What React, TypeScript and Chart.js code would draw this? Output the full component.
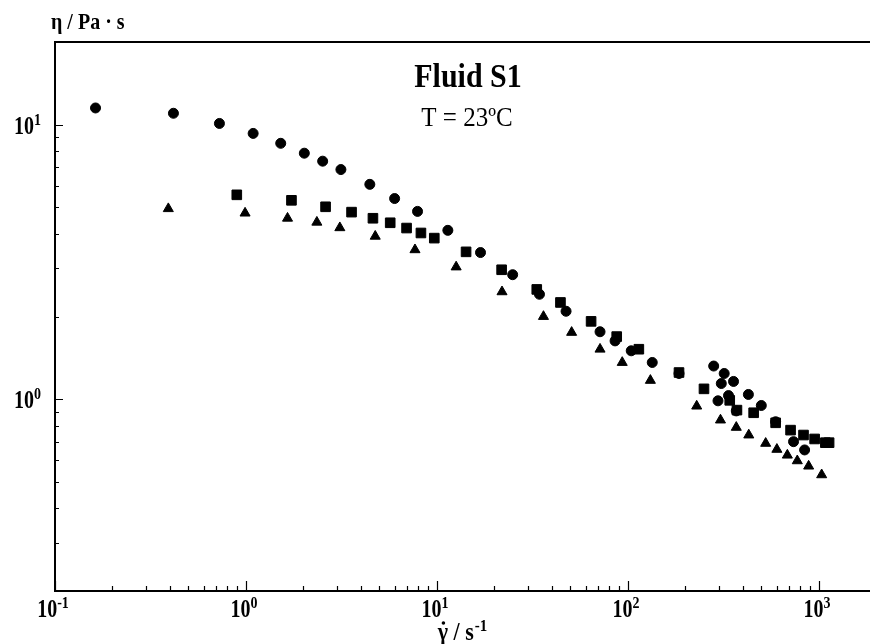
import { useEffect, useRef } from 'react';
import { Chart, registerables } from 'chart.js';

Chart.register(...registerables);

// ---- data (shear rate in 1/s, viscosity in Pa·s) ----
const circleX = [0.163, 0.417, 0.726, 1.09, 1.52, 2.02, 2.52, 3.14, 4.45, 6.0, 7.91, 11.4, 16.9, 24.9, 34.4, 47.4, 71.4, 85.6, 104, 134, 185, 281, 319, 308, 357, 336, 296, 427, 499, 369, 593, 736, 841];
const circleY = [11.5, 11.0, 10.1, 9.29, 8.55, 7.87, 7.36, 6.86, 6.06, 5.38, 4.83, 4.12, 3.42, 2.84, 2.41, 2.09, 1.76, 1.63, 1.5, 1.36, 1.24, 1.32, 1.24, 1.14, 1.16, 1.03, 0.986, 1.04, 0.948, 0.906, 0.827, 0.7, 0.653];

const squareX = [0.895, 1.73, 2.61, 3.57, 4.62, 5.69, 6.93, 8.24, 9.68, 14.2, 21.8, 33.3, 44.3, 64.1, 87.3, 114, 185, 250, 341, 372, 455, 593, 710, 830, 949, 1080, 1130];
const squareY = [5.55, 5.3, 5.02, 4.8, 4.56, 4.39, 4.2, 4.03, 3.86, 3.44, 2.96, 2.51, 2.25, 1.92, 1.69, 1.52, 1.25, 1.09, 0.99, 0.912, 0.892, 0.82, 0.771, 0.74, 0.716, 0.694, 0.694];

const triangleX = [0.392, 0.989, 1.65, 2.35, 3.1, 4.75, 7.67, 12.6, 21.9, 36.1, 50.7, 71.4, 93.3, 131, 229, 305, 369, 429, 526, 602, 683, 770, 883, 1033];
const triangleY = [4.94, 4.76, 4.56, 4.41, 4.21, 3.92, 3.5, 3.03, 2.46, 2.0, 1.75, 1.52, 1.36, 1.17, 0.943, 0.839, 0.789, 0.74, 0.69, 0.656, 0.625, 0.596, 0.57, 0.53];

// ---- axes / tick labels ----
const xMin = 0.1;
const xMax = 1850;
const yMin = 0.2;
const yMax = 20;
const xMajorTicks = [0.1, 1, 10, 100, 1000];
const xTickExponents = ['-1', '0', '1', '2', '3'];
const yMajorTicks = [1, 10];
const yTickExponents = ['0', '1'];
const tickBase = '10';

const titleText = 'Fluid S1';
const subtitleText = 'T = 23ºC';
const yAxisTitle = 'η / Pa · s';
const xAxisTitleBase = 'γ / s';
const xAxisTitleExp = '-1';

const FONT = '"Liberation Serif", "Times New Roman", serif';

function toPoints(xs: number[], ys: number[]) {
  return xs.map((x, i) => ({ x, y: ys[i] }));
}

function logTicks(min: number, max: number) {
  const out: number[] = [];
  const lo = Math.floor(Math.log10(min));
  const hi = Math.ceil(Math.log10(max));
  for (let e = lo; e <= hi; e++) {
    for (let m = 1; m <= 9; m++) {
      const v = parseFloat((m * Math.pow(10, e)).toPrecision(6));
      if (v >= min * 0.9999 && v <= max * 1.0001) out.push(v);
    }
  }
  return out;
}

function isMajor(v: number) {
  const l = Math.log10(v);
  return Math.abs(l - Math.round(l)) < 1e-6;
}

function txt(ctx: CanvasRenderingContext2D, s: string, x: number, y: number, size: number, weight: string, align: CanvasTextAlign, sy = 1) {
  ctx.save();
  ctx.font = `${weight} ${size}px ${FONT}`;
  ctx.textAlign = align;
  ctx.textBaseline = 'alphabetic';
  ctx.translate(x, y);
  ctx.scale(1, sy);
  ctx.fillText(s, 0, 0);
  ctx.restore();
}

const BASE_SIZE = 20;
const EXP_SIZE = 14;
const SY = 1.25;

function powerWidth(ctx: CanvasRenderingContext2D, exp: string) {
  ctx.save();
  ctx.font = `bold ${BASE_SIZE}px ${FONT}`;
  const w1 = ctx.measureText(tickBase).width;
  ctx.font = `bold ${EXP_SIZE}px ${FONT}`;
  const w2 = ctx.measureText(exp).width;
  ctx.restore();
  return [w1, w2];
}

function drawPower(ctx: CanvasRenderingContext2D, exp: string, x: number, baseline: number, align: 'center' | 'right') {
  const [w1, w2] = powerWidth(ctx, exp);
  const total = w1 + w2;
  const left = align === 'center' ? x - total / 2 : x - total;
  txt(ctx, tickBase, left, baseline, BASE_SIZE, 'bold', 'left', SY);
  txt(ctx, exp, left + w1, baseline - 9, EXP_SIZE, 'bold', 'left', SY);
}

const decorPlugin = {
  id: 'decor',
  afterDraw(chart: any) {
    const ctx: CanvasRenderingContext2D = chart.ctx;
    const { left, right, top, bottom } = chart.chartArea;
    const xs = chart.scales.x;
    const ys = chart.scales.y;
    ctx.save();
    ctx.fillStyle = '#000';
    ctx.strokeStyle = '#000';

    // frame: left, bottom, top
    ctx.lineWidth = 2;
    ctx.beginPath();
    ctx.moveTo(right, top);
    ctx.lineTo(left, top);
    ctx.lineTo(left, bottom);
    ctx.lineTo(right, bottom);
    ctx.stroke();

    // inward tick marks
    ctx.lineWidth = 1.2;
    ctx.beginPath();
    xs.ticks.forEach((t: any) => {
      const px = Math.round(xs.getPixelForValue(t.value)) + 0.5;
      const len = isMajor(t.value) ? 10 : 5;
      ctx.moveTo(px, bottom);
      ctx.lineTo(px, bottom - len);
    });
    ys.ticks.forEach((t: any) => {
      const py = Math.round(ys.getPixelForValue(t.value)) + 0.5;
      const len = isMajor(t.value) ? 8 : 4;
      ctx.moveTo(left, py);
      ctx.lineTo(left + len, py);
    });
    ctx.stroke();

    // tick labels
    xMajorTicks.forEach((v, i) => {
      const px = xs.getPixelForValue(v);
      drawPower(ctx, xTickExponents[i], px - 2, bottom + 26, 'center');
    });
    yMajorTicks.forEach((v, i) => {
      const py = ys.getPixelForValue(v);
      drawPower(ctx, yTickExponents[i], 41, py + 9, 'right');
    });

    // titles
    txt(ctx, titleText, 468, 87, 30, 'bold', 'center', 1.1);
    txt(ctx, subtitleText, 467, 126, 25, 'normal', 'center', 1.1);
    txt(ctx, yAxisTitle, 51, 29, 20, 'bold', 'left', 1.15);

    // x-axis title with dotted gamma and superscript
    const bSize = 22;
    const eSize = 15;
    ctx.save();
    ctx.font = `bold ${bSize}px ${FONT}`;
    const wb = ctx.measureText(xAxisTitleBase).width;
    const gw = ctx.measureText('γ').width;
    ctx.font = `bold ${eSize}px ${FONT}`;
    const we = ctx.measureText(xAxisTitleExp).width;
    ctx.restore();
    const tl = 462 - (wb + we) / 2;
    txt(ctx, xAxisTitleBase, tl, 640, bSize, 'bold', 'left', 1.1);
    txt(ctx, xAxisTitleExp, tl + wb + 1, 631, eSize, 'bold', 'left', 1.1);
    ctx.beginPath();
    ctx.arc(tl + gw / 2 + 0.5, 623, 1.8, 0, Math.PI * 2);
    ctx.fill();

    ctx.restore();
  },
};

export default function App() {
  const ref = useRef<HTMLCanvasElement | null>(null);
  useEffect(() => {
    if (!ref.current) return;
    const chart = new Chart(ref.current, {
      type: 'scatter',
      data: {
        datasets: [
          {
            label: 'circles',
            data: toPoints(circleX, circleY),
            pointStyle: 'circle',
            pointRadius: 5,
            pointBorderWidth: 1,
            backgroundColor: '#000',
            borderColor: '#000',
          },
          {
            label: 'squares',
            data: toPoints(squareX, squareY),
            pointStyle: 'rect',
            pointRadius: 6.8,
            pointBorderWidth: 1,
            backgroundColor: '#000',
            borderColor: '#000',
          },
          {
            label: 'triangles',
            data: toPoints(triangleX, triangleY),
            pointStyle: 'triangle',
            pointRadius: 5.8,
            pointBorderWidth: 1,
            backgroundColor: '#000',
            borderColor: '#000',
          },
        ],
      },
      options: {
        responsive: false,
        animation: false,
        layout: { autoPadding: false, padding: { left: 55, right: 0, top: 42, bottom: 53 } },
        plugins: { legend: { display: false }, tooltip: { enabled: false }, title: { display: false } },
        scales: {
          x: {
            type: 'logarithmic',
            min: xMin,
            max: xMax,
            grid: { display: false, drawTicks: false, tickLength: 0 },
            border: { display: false },
            ticks: { display: false, padding: 0 },
            afterBuildTicks: (scale: any) => {
              scale.ticks = logTicks(xMin, xMax).map((v) => ({ value: v }));
            },
          },
          y: {
            type: 'logarithmic',
            min: yMin,
            max: yMax,
            grid: { display: false, drawTicks: false, tickLength: 0 },
            border: { display: false },
            ticks: { display: false, padding: 0 },
            afterBuildTicks: (scale: any) => {
              scale.ticks = logTicks(yMin, yMax).map((v) => ({ value: v }));
            },
          },
        },
      },
      plugins: [decorPlugin],
    });
    return () => chart.destroy();
  }, []);
  return (
    <div style={{ position: 'fixed', left: 0, top: 0, width: 870, height: 644, background: '#fff' }}>
      <canvas ref={ref} width={870} height={644} />
    </div>
  );
}
